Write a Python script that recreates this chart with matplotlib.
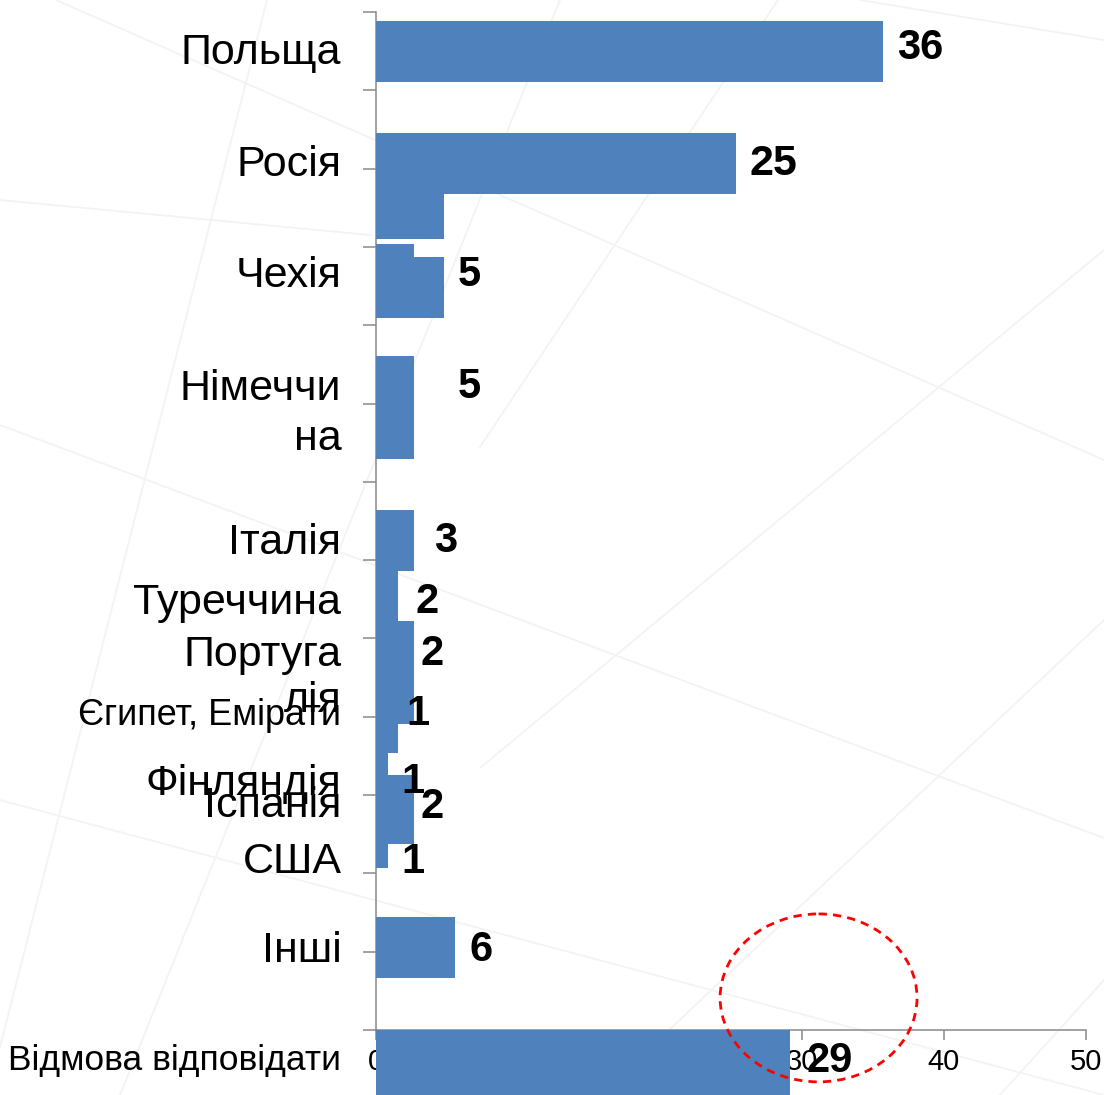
import matplotlib
matplotlib.use('Agg')
import matplotlib.pyplot as plt
from matplotlib.patches import Ellipse
from matplotlib.lines import Line2D

BLUE = '#4F81BD'
GREY = '#898989'
REGULAR = ['Liberation Sans', 'DejaVu Sans']

# bar pieces as they appear on the slide (length)
bar_values = [35.7, 25.4, 4.8, 2.7, 4.8, 2.7, 2.7, 1.6, 2.7, 1.6, 0.9, 2.7, 0.9, 5.6, 29.2]
# top / bottom edge of each piece in category slots (axis has 13 slots)
bar_top = [0.115, 1.545, 2.324, 2.963, 3.129, 4.393, 6.359, 7.138, 7.777,
           9.092, 9.462, 9.743, 10.624, 11.557, 13.0]
bar_bottom = [0.894, 2.324, 2.899, 3.129, 3.908, 5.708, 7.138, 7.777, 9.092,
              9.462, 9.743, 10.624, 10.931, 12.335, 13.83]

# data labels
value_labels = ['36', '25', '5', '5', '3', '2', '2', '1', '1', '2', '1', '6', '29']
value_x = [36.7, 26.35, 5.8, 5.8, 4.1, 2.85, 3.2, 2.2, 1.8, 3.2, 1.8, 6.65, 30.3]
value_y = [0.60, 2.081, 3.499, 4.929, 6.896, 7.675, 8.339, 9.105, 9.973,
           10.292, 10.995, 12.118, 13.536]
value_size = [30, 31, 30, 30, 30, 30, 30, 30, 30, 30, 30, 30, 30]

# category labels (including the wrapped pieces)
categories = ['Польща', 'Росія', 'Чехія', 'Німеччи', 'на', 'Італія', 'Туреччина',
              'Португа', 'лія', 'Єгипет, Емірати', 'Фінляндія', 'Іспанія',
              'США', 'Інші', 'Відмова відповідати']
cat_y = [0.664, 2.094, 3.512, 4.955, 5.593, 6.921, 7.687, 8.351, 8.939,
         9.105, 9.999, 10.280, 10.995, 12.131, 13.510]
cat_size = [31, 31, 31, 31, 31, 31, 31, 31, 31, 26, 31, 31, 31, 31, 25.5]

x_ticks = [0, 10, 20, 30, 40, 50]

W, H = 1104, 1095
fig = plt.figure(figsize=(W / 100, H / 100), dpi=100)
fig.patch.set_facecolor('white')

# faint perspective grid of the slide background (pixel coords)
bg_lines = [((56, 0), (1104, 460)), ((0, 425), (1104, 838)), ((0, 800), (1104, 1095)),
            ((0, 200), (370, 235)), ((0, 1047), (267, 0)), ((120, 1095), (560, 0)),
            ((480, 447), (778, 0)), ((480, 768), (1104, 250)), ((600, 1095), (1104, 620)),
            ((1000, 1095), (1104, 980)), ((860, 0), (1104, 40))]
for (x0, y0), (x1, y1) in bg_lines:
    fig.add_artist(Line2D([x0 / W, x1 / W], [1 - y0 / H, 1 - y1 / H],
                          transform=fig.transFigure, color='#f3f3f3', lw=1.3, zorder=-1))

ax = fig.add_axes([375.5 / W, (H - 1030) / H, (1086 - 375.5) / W, (1030 - 12) / H])
ax.patch.set_facecolor('none')

for v, t, b in zip(bar_values, bar_top, bar_bottom):
    ax.barh((t + b) / 2, v, height=b - t, left=0, color=BLUE, zorder=3, clip_on=False)

for s, x, y, fs in zip(value_labels, value_x, value_y, value_size):
    ax.text(x, y, s, fontsize=fs, fontweight='bold', family=REGULAR,
            ha='left', va='baseline', zorder=4, clip_on=False)

for s, y, fs in zip(categories, cat_y, cat_size):
    ax.text(-2.4, y, s, fontsize=fs, family=REGULAR, ha='right', va='baseline',
            clip_on=False)

ax.add_patch(Ellipse((31.18, 12.59), 13.86, 2.145, fill=False, ec='red', lw=2,
                     ls=(0, (3, 2.2)), clip_on=False, zorder=6))

ax.set_xlim(0, 50)
ax.set_ylim(13, 0)
ax.set_xticks(x_ticks)
ax.set_xticklabels([str(t) for t in x_ticks], family=REGULAR, fontsize=21)
ax.set_yticks(range(14))
ax.set_yticklabels([])
ax.tick_params(axis='x', length=7.2, width=1.1, color=GREY, pad=5.5)
ax.tick_params(axis='y', length=9.4, width=1.1, color=GREY)
for side in ['top', 'right']:
    ax.spines[side].set_visible(False)
for side in ['left', 'bottom']:
    ax.spines[side].set_color(GREY)
    ax.spines[side].set_linewidth(1.1)

fig.savefig('out.png', dpi=100)
